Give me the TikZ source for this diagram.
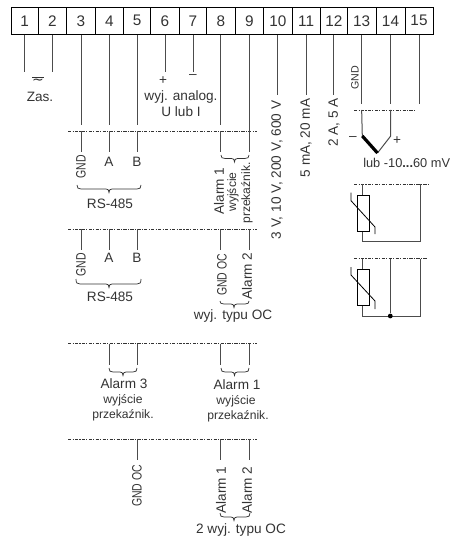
\documentclass[tikz,border=0pt]{standalone}
\usepackage{fontspec}
\setmainfont{Liberation Sans}
\newfontfamily\symfont{DejaVu Sans}
\definecolor{ink}{gray}{0.2}
\newcommand{\brc}[5]{% x1 xm x2 yhook yline; tip = yline+3.5
  \draw[bracel] (#1,#4) .. controls (#1,#5-1) and (#1+1,#5) .. (#1+4,#5) -- (#2-3,#5)
    .. controls (#2-1,#5) and (#2,#5+1) .. (#2,#5+3.5)
    .. controls (#2,#5+1) and (#2+1,#5) .. (#2+3,#5) -- (#3-4,#5)
    .. controls (#3-1,#5) and (#3,#5-1) .. (#3,#4);}
\newcommand{\cnd}[1]{\scalebox{0.77}[1]{#1}}
\tikzset{
  termbox/.style={draw=black,line width=0.7pt,minimum height=20.2pt,inner sep=0pt,font=\fontsize{11.5}{13}\selectfont,text=ink},
  wire/.style={draw=black!70,line width=0.75pt},
  sep/.style={draw=black!80,line width=0.6pt,dash pattern=on 2.4pt off 1pt on 0.8pt off 1pt},
  bracel/.style={draw=black!80,line width=0.55pt},
  lab/.style={inner sep=0pt,text=ink,font=\fontsize{10.2}{12}\selectfont},
  labs/.style={inner sep=0pt,text=ink,font=\fontsize{9.1}{11}\selectfont},
  labg/.style={inner sep=0pt,text=ink,font=\fontsize{8}{10}\selectfont},
  rtd/.style={draw=black,line width=0.7pt,fill=white},
  diag/.style={draw=black,line width=0.6pt},
}
\begin{document}
\begin{tikzpicture}[x=0.75pt,y=-0.75pt]
\useasboundingbox (0,0) rectangle (453,538);
% terminals
\foreach \n/\a/\b in {1/11/38.3,2/38.3/66.7,3/66.7/95.3,4/95.3/123.7,5/123.7/150.7,6/150.7/179.3,7/179.3/206.7,8/206.7/235,9/235/263.7,10/263.7/292,11/292/320.3,12/320.3/347.3,13/347.3/376,14/376/405,15/405/433}{
  \pgfmathsetmacro{\w}{(\b-\a)*0.75}
  \pgfmathsetmacro{\c}{(\a+\b)/2}
  \node[termbox,minimum width=\w pt] (t\n) at (\c,20.8) {\n};
}
% levels
\coordinate (s1l) at (68,131.5); \coordinate (s1r) at (257,131.5);
\coordinate (s2l) at (68,229);   \coordinate (s2r) at (257,229);
\coordinate (s3l) at (68,343.5); \coordinate (s3r) at (257,343.5);
\coordinate (s4l) at (68,439);   \coordinate (s4r) at (257,439);
\coordinate (k1) at (0,72);
\coordinate (k2) at (0,125);
\coordinate (k3) at (0,152);
\coordinate (k4) at (0,250);
\coordinate (k5) at (0,365);
\coordinate (k6) at (0,460);
\coordinate (k7) at (0,95);
\coordinate (k8) at (0,104);
\draw[sep] (s1l) -- (s1r);
\draw[sep] (s2l) -- (s2r);
\draw[sep] (s3l) -- (s3r);
\draw[sep] (s4l) -- (s4r);
% top wires
\foreach \n in {1,2,6,7} \draw[wire] (t\n.south) -- (t\n.south |- k1);
\foreach \n in {3,4,5,8} {
  \draw[wire] (t\n.south) -- (t\n.south |- k2);
  \draw[wire] (t\n.south |- s1l) -- (t\n.south |- k3);
  \draw[wire] (t\n.south |- s2l) -- (t\n.south |- k4);
}
\draw[wire] (t9.south) -- (t9.south |- k3);
\draw[wire] (t9.south |- s2l) -- (t9.south |- k4);
\foreach \n in {10,11,12} \draw[wire] (t\n.south) -- (t\n.south |- k7);
\foreach \n in {13,14,15} \draw[wire] (t\n.south) -- (t\n.south |- k8);
% labels, top
\draw[bracel] (32,77) -- (44,77);
\node[lab] (tilde) at (38,82) {\symfont\fontsize{10.5}{10.5}\selectfont ∼};
\node[lab] (zas) at (40,97) {Zas.};
\node[lab] (plus) at (163,81) {+};
\node[lab] (minus) at (193,77) {–};
\node[lab] (wyjan) at (181,97) {wyj. analog.};
\node[lab] (ului) at (181,112) {U lub I};
\node[lab,rotate=90] (g1) at (81,167) {\cnd{GND}};
\node[lab] (a1) at (109,162) {A};
\node[lab] (b1) at (137,162) {B};
\brc{77}{109}{141}{185}{189}
\node[lab] (rs1) at (110,204) {RS-485};
\node[lab,rotate=90] (g2) at (81,265) {\cnd{GND}};
\node[lab] (a2) at (109,258) {A};
\node[lab] (b2) at (137,258) {B};
\brc{76}{109}{141}{279}{284}
\node[lab] (rs2) at (110,297) {RS-485};
% alarm 1 block
\brc{221}{234.5}{249}{155}{158.5}
\node[lab,rotate=90] (al1) at (219,191) {Alarm 1};
\node[labs,rotate=90] (wy1) at (233,192) {wyjście};
\node[labs,rotate=90] (pr1) at (247,193) {przekaźnik.};
\node[lab,rotate=90] (goc) at (222,275) {\cnd{GND OC}};
\node[lab,rotate=90] (al2) at (247,276) {Alarm 2};
\brc{220}{234}{249}{301}{304}
\node[lab] (typ) at (233,316) {wyj. typu OC};
% rotated ranges
\node[lab,rotate=90] (r10) at (277,170) {3 V, 10 V, 200 V, 600 V};
\node[lab,rotate=90] (r11) at (306,138) {5 mA, 20 mA};
\node[lab,rotate=90] (r12) at (334,122.5) {2 A, 5 A};
\node[labg,rotate=90] (g13) at (355,78) {GND};
% thermocouple
\coordinate (s5l) at (354,110); \coordinate (s5r) at (415,110);
\draw[sep] (s5l) -- (s5r);
\coordinate (tc13) at (362.3,136);
\coordinate (tc14) at (390.7,136);
\coordinate (tcv) at (377.5,153);
\draw[wire] (t13.south |- s5l) -- (tc13);
\draw[wire] (t14.south |- s5l) -- (tc14) -- (tcv);
\draw[draw=black,line width=2.4pt] (tc13) -- (tcv);
\node[lab] (tcm) at (353,139) {–};
\node[lab] (tcp) at (397,140.5) {+};
\node[lab,anchor=west,font=\fontsize{9.6}{12}\selectfont] (tcl) at (363,163) {lub -10{\bfseries...}60 mV};
% RTD 2-wire
\coordinate (s6l) at (354,184); \coordinate (s6r) at (428,184);
\draw[sep] (s6l) -- (s6r);
\coordinate (b1l) at (362.7,241); \coordinate (b1r) at (420,241);
\draw[wire] (362.7,184) -- (b1l) -- (b1r) -- (420,184);
\node[rtd,minimum width=9pt,minimum height=26.5pt,inner sep=0pt] (rt1) at (363,213.3) {};
\draw[diag] (351,192.7) -- (351,200.7) -- (375,227) -- (375,234);
% RTD 3-wire
\coordinate (s7l) at (354,258.7); \coordinate (s7r) at (427,258.7);
\draw[sep] (s7l) -- (s7r);
\coordinate (b2l) at (362.7,316); \coordinate (b2r) at (420,316);
\draw[wire] (362.7,258.7) -- (b2l) -- (b2r) -- (420,258.7);
\node[circle,fill=black,inner sep=0pt,minimum size=3.6pt] (dot) at (390.3,316) {};
\draw[wire] (390.3,258.7) -- (dot);
\node[rtd,minimum width=9pt,minimum height=26.5pt,inner sep=0pt] (rt2) at (363,287.5) {};
\draw[diag] (351,267) -- (351,275) -- (375,301) -- (375,309);
% third block
\coordinate (p3a) at (109,343.5); \coordinate (p3b) at (109,365);
\coordinate (p3c) at (137,343.5); \coordinate (p3d) at (137,365);
\draw[wire] (p3a) -- (p3b);
\draw[wire] (p3c) -- (p3d);
\draw[wire] (t8.south |- s3l) -- (t8.south |- k5);
\draw[wire] (t9.south |- s3l) -- (t9.south |- k5);
\brc{109}{123}{137}{368}{372}
\brc{221}{234.5}{249}{368}{372}
\node[lab] (al3) at (124,384) {Alarm 3};
\node[labs] (wy3) at (123,400) {wyjście};
\node[labs] (pr3) at (123,415) {przekaźnik.};
\node[lab] (al1b) at (237,385) {Alarm 1};
\node[labs] (wy1b) at (236,401) {wyjście};
\node[labs] (pr1b) at (238,416) {przekaźnik.};
% fourth block
\draw[wire] (t5.south |- s4l) -- (t5.south |- k6);
\draw[wire] (t8.south |- s4l) -- (t8.south |- k6);
\draw[wire] (t9.south |- s4l) -- (t9.south |- k6);
\node[lab,rotate=90] (goc2) at (137,486) {\cnd{GND OC}};
\node[lab,rotate=90] (al1c) at (221,490) {Alarm 1};
\node[lab,rotate=90] (al2c) at (247,490) {Alarm 2};
\brc{220}{234}{250}{513}{517}
\node[lab] (typ2) at (241,530) {2 wyj. typu OC};
\end{tikzpicture}
\end{document}
